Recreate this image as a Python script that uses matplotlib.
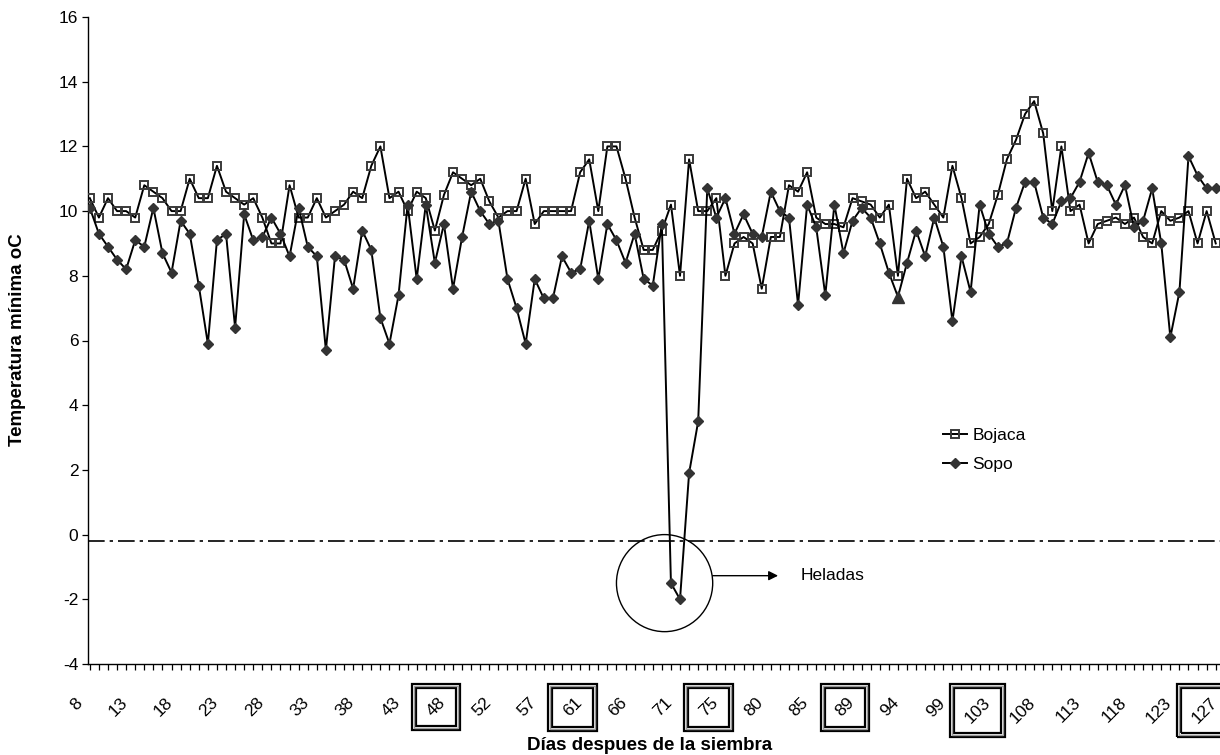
import matplotlib
matplotlib.use('Agg')
import matplotlib.pyplot as plt
import matplotlib.transforms as mtransforms
from matplotlib.patches import Ellipse, Rectangle
from matplotlib.lines import Line2D

plt.rcParams['font.family'] = ['Liberation Sans', 'DejaVu Sans']
plt.rcParams['axes.unicode_minus'] = False

# ---------------- data ----------------
series_names = ['Bojaca', 'Sopo']

bojaca = [10.4, 9.8, 10.4, 10.0, 10.0, 9.8, 10.8, 10.6, 10.4, 10.0,
          10.0, 11.0, 10.4, 10.4, 11.4, 10.6, 10.4, 10.2, 10.4, 9.8,
          9.0, 9.0, 10.8, 9.8, 9.8, 10.4, 9.8, 10.0, 10.2, 10.6,
          10.4, 11.4, 12.0, 10.4, 10.6, 10.0, 10.6, 10.4, 9.4, 10.5,
          11.2, 11.0, 10.8, 11.0, 10.3, 9.8, 10.0, 10.0, 11.0, 9.6,
          10.0, 10.0, 10.0, 10.0, 11.2, 11.6, 10.0, 12.0, 12.0, 11.0,
          9.8, 8.8, 8.8, 9.4, 10.2, 8.0, 11.6, 10.0, 10.0, 10.4,
          8.0, 9.0, 9.2, 9.0, 7.6, 9.2, 9.2, 10.8, 10.6, 11.2,
          9.8, 9.6, 9.6, 9.5, 10.4, 10.3, 10.2, 9.8, 10.2, 8.0,
          11.0, 10.4, 10.6, 10.2, 9.8, 11.4, 10.4, 9.0, 9.2, 9.6,
          10.5, 11.6, 12.2, 13.0, 13.4, 12.4, 10.0, 12.0, 10.0, 10.2,
          9.0, 9.6, 9.7, 9.8, 9.6, 9.8, 9.2, 9.0, 10.0, 9.7,
          9.8, 10.0, 9.0, 10.0, 9.0]

sopo = [10.1, 9.3, 8.9, 8.5, 8.2, 9.1, 8.9, 10.1, 8.7, 8.1,
        9.7, 9.3, 7.7, 5.9, 9.1, 9.3, 6.4, 9.9, 9.1, 9.2,
        9.8, 9.3, 8.6, 10.1, 8.9, 8.6, 5.7, 8.6, 8.5, 7.6,
        9.4, 8.8, 6.7, 5.9, 7.4, 10.2, 7.9, 10.2, 8.4, 9.6,
        7.6, 9.2, 10.6, 10.0, 9.6, 9.7, 7.9, 7.0, 5.9, 7.9,
        7.3, 7.3, 8.6, 8.1, 8.2, 9.7, 7.9, 9.6, 9.1, 8.4,
        9.3, 7.9, 7.7, 9.6, -1.5, -2.0, 1.9, 3.5, 10.7, 9.8,
        10.4, 9.3, 9.9, 9.3, 9.2, 10.6, 10.0, 9.8, 7.1, 10.2,
        9.5, 7.4, 10.2, 8.7, 9.7, 10.1, 9.8, 9.0, 8.1, 7.35,
        8.4, 9.4, 8.6, 9.8, 8.9, 6.6, 8.6, 7.5, 10.2, 9.3,
        8.9, 9.0, 10.1, 10.9, 10.9, 9.8, 9.6, 10.3, 10.4, 10.9,
        11.8, 10.9, 10.8, 10.2, 10.8, 9.5, 9.7, 10.7, 9.0, 6.1,
        7.5, 11.7, 11.1, 10.7, 10.7]

tick_labels = ['8', '13', '18', '23', '28', '33', '38', '43', '48', '52',
               '57', '61', '66', '71', '75', '80', '85', '89', '94', '99',
               '103', '108', '113', '118', '123', '127']
boxed_labels = ['48', '61', '75', '89', '103', '127']
frost_threshold = -0.2
frost_label = 'Heladas'
triangle_index = 89   # Sopo point drawn with a triangle marker

# ---------------- figure ----------------
W, H = 1220, 755
fig = plt.figure(figsize=(W / 100, H / 100), dpi=100)
left_px, right_px, top_px, bottom_px = 88, 1230, 17, 664
ax = fig.add_axes([left_px / W, 1 - bottom_px / H,
                   (right_px - left_px) / W, (bottom_px - top_px) / H])

step = 9.08
x0 = -0.2
x1 = x0 + (right_px - left_px) / step
ax.set_xlim(x0, x1)
ax.set_ylim(-4, 16)

x = list(range(len(bojaca)))
ax.plot(x, bojaca, color='black', lw=1.4, marker='s', ms=6.3,
        mfc='none', mec='#3a3a3a', mew=1.4, zorder=3)
sopo_marks = [i for i in x if i != triangle_index]
ax.plot(x, sopo, color='black', lw=1.4, marker='D', ms=5.4,
        mfc='#333333', mec='#333333', markevery=sopo_marks, zorder=4)
ax.plot([x[triangle_index]], [sopo[triangle_index]], ls='none', marker='^',
        ms=8, color='#333333', zorder=5)

# frost threshold line
ax.axhline(frost_threshold, color='black', lw=1.2,
           linestyle=(0, (10, 3, 2, 3)), zorder=2)

# frost circle, arrow and text
ax.add_patch(Ellipse((63.3, -1.5), 10.6, 3.0, fill=False, ec='black',
                     lw=1.0, zorder=6, clip_on=False))
ax.annotate('', xy=(75.8, -1.27), xytext=(68.6, -1.27),
            arrowprops=dict(arrowstyle='-|>', color='black', lw=1.0,
                            mutation_scale=14, shrinkA=0, shrinkB=0))
ax.text(78.3, -1.27, frost_label, ha='left', va='center', fontsize=12.5)

# axes styling
for s in ['top', 'right']:
    ax.spines[s].set_visible(False)
for s in ['left', 'bottom']:
    ax.spines[s].set_linewidth(1.0)

ax.set_yticks(range(-4, 17, 2))
ax.tick_params(axis='y', direction='out', length=4, width=0.9,
               labelsize=12.5, pad=3)

n_ticks = 5 * (len(tick_labels) - 1) + 1
ax.set_xticks(range(n_ticks))
xt = [tick_labels[i // 5] if i % 5 == 0 else '' for i in range(n_ticks)]
ax.set_xticklabels(xt)
ax.tick_params(axis='x', which='major', bottom=True, direction='out',
               length=4.5, width=0.9, labelsize=12.5, pad=6)
shift = mtransforms.ScaledTranslation(-10 / 100, -22 / 100, fig.dpi_scale_trans)
for lab in ax.get_xticklabels():
    lab.set_rotation(45)
    lab.set_ha('right')
    lab.set_va('center')
    lab.set_rotation_mode('anchor')
    lab.set_transform(lab.get_transform() + shift)

# legend
handles = [Line2D([], [], color='black', lw=1.4, marker='s', ms=6.3,
                  mfc='none', mec='#3a3a3a', mew=1.4),
           Line2D([], [], color='black', lw=1.4, marker='D', ms=5.4,
                  mfc='#333333', mec='#333333')]
ax.legend(handles, series_names, loc='center left', frameon=False,
          bbox_to_anchor=(934 / W, 1 - 450 / H), bbox_transform=fig.transFigure,
          fontsize=12.5, handlelength=1.4, handletextpad=0.3,
          labelspacing=0.75, borderpad=0)

# axis titles
fig.text(650 / W, 1 - 745 / H, 'Días despues de la siembra', ha='center',
         va='center', fontsize=13.5, fontweight='bold')
fig.text(18 / W, 1 - 340 / H, 'Temperatura mínima oC', ha='center',
         va='center', rotation=90, fontsize=13.5, fontweight='bold')

# double boxes around selected tick labels
fig.canvas.draw()
renderer = fig.canvas.get_renderer()
for lab in ax.get_xticklabels():
    if lab.get_text() in boxed_labels:
        bb = lab.get_window_extent(renderer)
        cx, cy = (bb.x0 + bb.x1) / 2, (bb.y0 + bb.y1) / 2
        w, h = bb.width + 24, bb.height + 22
        for inset, lw in [(0, 1.6), (4, 1.6)]:
            r = Rectangle((cx - w / 2 + inset, cy - h / 2 + inset),
                          w - 2 * inset, h - 2 * inset, fill=False,
                          ec='black', lw=lw, transform=None)
            fig.add_artist(r)
        r = Rectangle((cx - w / 2 + 2, cy - h / 2 + 2), w - 4, h - 4,
                      fill=False, ec='#9a9a9a', lw=1.0, transform=None)
        fig.add_artist(r)

fig.savefig('out.png', dpi=100)
